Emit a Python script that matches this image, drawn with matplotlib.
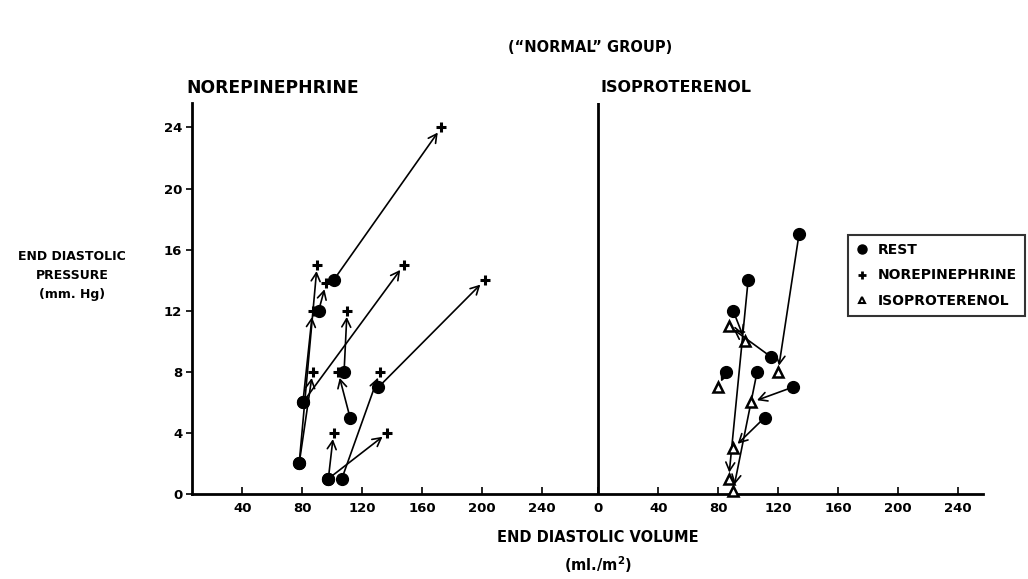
import matplotlib
matplotlib.use("Agg")
import matplotlib.pyplot as plt
from matplotlib.lines import Line2D

# End diastolic volume (ml/m2) and pressure (mm Hg), rest -> drug, one entry per arrow
ne_rest_edv = [101, 131, 108, 112, 106.5, 97.5, 97.5, 80.5, 78, 78, 80.5, 91]
ne_rest_edp = [14, 7, 8, 5, 1, 1, 1, 6, 2, 2, 6, 12]
ne_edv = [173, 202, 110, 104, 132, 101, 137, 148, 87, 90, 87, 96]
ne_edp = [24, 14, 12, 8, 8, 4, 4, 15, 8, 15, 12, 13.8]

iso_rest_edv = [134, 100, 90, 115, 85, 106, 130, 111]
iso_rest_edp = [17, 14, 12, 9, 8, 8, 7, 5]
iso_edv = [120, 87, 98, 87, 80, 90, 102, 90]
iso_edp = [8, 1, 10, 11, 7, 0.2, 6, 3]

vol_ticks = [40, 80, 120, 160, 200, 240]
pres_ticks = [0, 4, 8, 12, 16, 20, 24]

# the isoproterenol panel shares the axis, shifted right
offset = 278

plt.rcParams['font.family'] = ['DejaVu Sans']
plt.rcParams['font.weight'] = 'bold'

fig = plt.figure(figsize=(10.28, 5.79), dpi=100)
ax = fig.add_axes([0.1868, 0.1468, 0.7695, 0.6753])


def draw_pairs(rest_x, rest_y, drug_x, drug_y, shift):
    for x0, y0, x1, y1 in zip(rest_x, rest_y, drug_x, drug_y):
        ax.annotate("", xy=(x1 + shift, y1), xytext=(x0 + shift, y0),
                    arrowprops=dict(arrowstyle="->,head_length=0.6,head_width=0.32",
                                    color="black", lw=1.2, shrinkA=0, shrinkB=4.5),
                    annotation_clip=False, zorder=2)


draw_pairs(ne_rest_edv, ne_rest_edp, ne_edv, ne_edp, 0)
draw_pairs(iso_rest_edv, iso_rest_edp, iso_edv, iso_edp, offset)

# markers
ax.plot(ne_rest_edv, ne_rest_edp, 'o', color='black', ms=8.5, ls='none',
        zorder=4, clip_on=False)
ax.plot(ne_edv, ne_edp, '+', color='black', ms=7, mew=2.2, ls='none',
        zorder=4, clip_on=False)
ax.plot([v + offset for v in iso_rest_edv], iso_rest_edp, 'o', color='black',
        ms=8.5, ls='none', zorder=4, clip_on=False)
ax.plot([v + offset for v in iso_edv], iso_edp, '^', mfc='white', mec='black',
        mew=1.8, ms=6.5, ls='none', zorder=4, clip_on=False)

# divider between the two panels
ax.axvline(offset, color='black', lw=2, zorder=3)

ax.set_xlim(6.4, 535)
ax.set_ylim(0, 25.6)
ax.spines['top'].set_visible(False)
ax.spines['right'].set_visible(False)
ax.spines['left'].set_linewidth(2)
ax.spines['bottom'].set_linewidth(2)

xt = vol_ticks + [offset] + [v + offset for v in vol_ticks]
xl = [str(v) for v in vol_ticks] + ['0'] + [str(v) for v in vol_ticks]
ax.set_xticks(xt)
ax.set_xticklabels(xl, fontsize=9.5, fontweight='bold')
ax.set_yticks(pres_ticks)
ax.set_yticklabels([str(v) for v in pres_ticks], fontsize=9.5, fontweight='bold')
ax.tick_params(axis='x', direction='in', length=5, width=1.2, pad=6)
ax.tick_params(axis='y', direction='out', length=4, width=1.2, pad=3)

# text
fig.text(590 / 1028, 1 - 48 / 579, '(\u201cNORMAL\u201d GROUP)', ha='center',
         va='center', fontsize=10.5, fontweight='bold')
fig.text(186 / 1028, 1 - 88 / 579, 'NOREPINEPHRINE', ha='left', va='center',
         fontsize=12.3, fontweight='bold')
fig.text(600 / 1028, 1 - 87 / 579, 'ISOPROTERENOL', ha='left', va='center',
         fontsize=11.5, fontweight='bold')
fig.text(72 / 1028, 1 - 276 / 579, 'END DIASTOLIC\nPRESSURE\n(mm. Hg)',
         ha='center', va='center', fontsize=9, fontweight='bold',
         linespacing=1.6)
fig.text(598 / 1028, 1 - 537 / 579, 'END DIASTOLIC VOLUME', ha='center',
         va='center', fontsize=10.5, fontweight='bold')
fig.text(598 / 1028, 1 - 565 / 579, '(ml./m$^{\\mathbf{2}}$)', ha='center',
         va='center', fontsize=10.5, fontweight='bold')

handles = [
    Line2D([], [], marker='o', color='black', ls='none', ms=6.5),
    Line2D([], [], marker='+', color='black', ls='none', ms=5.5, mew=2),
    Line2D([], [], marker='^', mfc='white', mec='black', mew=1.5, ls='none', ms=5),
]
leg = fig.legend(handles, ['REST', 'NOREPINEPHRINE', 'ISOPROTERENOL'],
                 loc='upper left', bbox_to_anchor=(848 / 1028, 1 - 235 / 579),
                 prop={'weight': 'bold', 'size': 10}, frameon=True,
                 fancybox=False, edgecolor='black', handlelength=0.9,
                 handletextpad=0.7, borderpad=0.55, labelspacing=0.85,
                 borderaxespad=0)
leg.get_frame().set_linewidth(1.5)

fig.savefig('out.png', dpi=100)
